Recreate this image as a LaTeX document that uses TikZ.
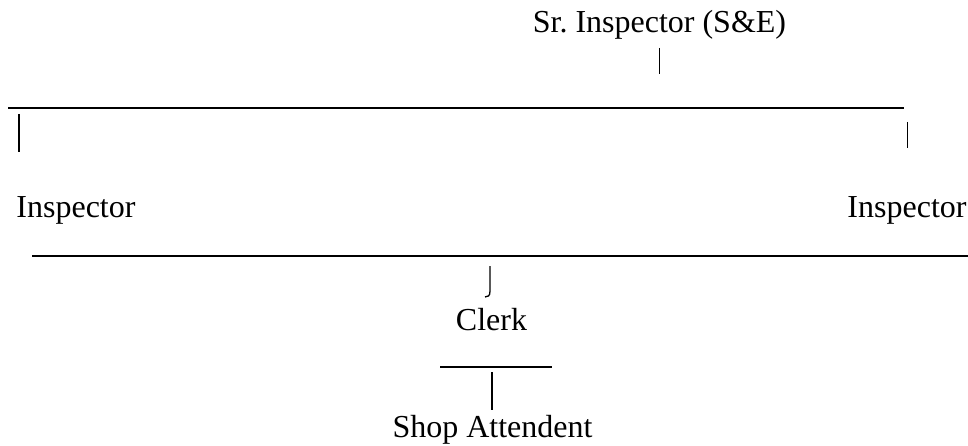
\documentclass[tikz,border=0pt]{standalone}
\usepackage{fontspec}
\setmainfont{Liberation Serif}
\usepackage{tikz}
\usetikzlibrary{calc}

\tikzset{
  post/.style={anchor=base,inner sep=0pt,font=\fontsize{32}{38}\selectfont},
  rule/.style={line width=2pt},
  hair/.style={line width=1pt},
  thickbar/.style={line width=2.4pt}
}

\begin{document}
\begin{tikzpicture}[x=1pt,y=-1pt]
\useasboundingbox (0,0) rectangle (968,446);
\draw (659.5,33) node (sr) [post] {Sr.\ Inspector (S\&E)};
\draw[hair] (sr.base) ++(0,15) -- ++(0,26);
% first level
\coordinate (top l) at (8,108);
\coordinate (top r) at (904,108);
\draw[rule] (top l) -- (top r);
\draw (76,218) node (insl) [post] {Inspector};
\draw (907,218) node (insr) [post] {Inspector};
\draw[rule] ($(top l)+(11,6)$) -- ++(0,38);
\draw[hair] (insr.base) ++(0,-96) -- ++(0,26);
% second level
\coordinate (mid l) at (32,256);
\coordinate (mid r) at (968,256);
\draw[rule] (mid l) -- (mid r);
\draw (491.5,330) node (clerk) [post] {Clerk};
\draw[line width=1.3pt] ($(clerk.base)+(-1.5,-64)$) -- ++(0,25) .. controls ++(0,5) and ++(3,0) .. ++(-5,6);
% third level
\coordinate (low l) at (440,367);
\coordinate (low r) at (552,367);
\draw[rule] (low l) -- (low r);
\draw (492.5,437) node (shop) [post] {Shop Attendent};
\draw[thickbar] ($(shop.base)+(-0.5,-65)$) -- ++(0,38);
\end{tikzpicture}
\end{document}
